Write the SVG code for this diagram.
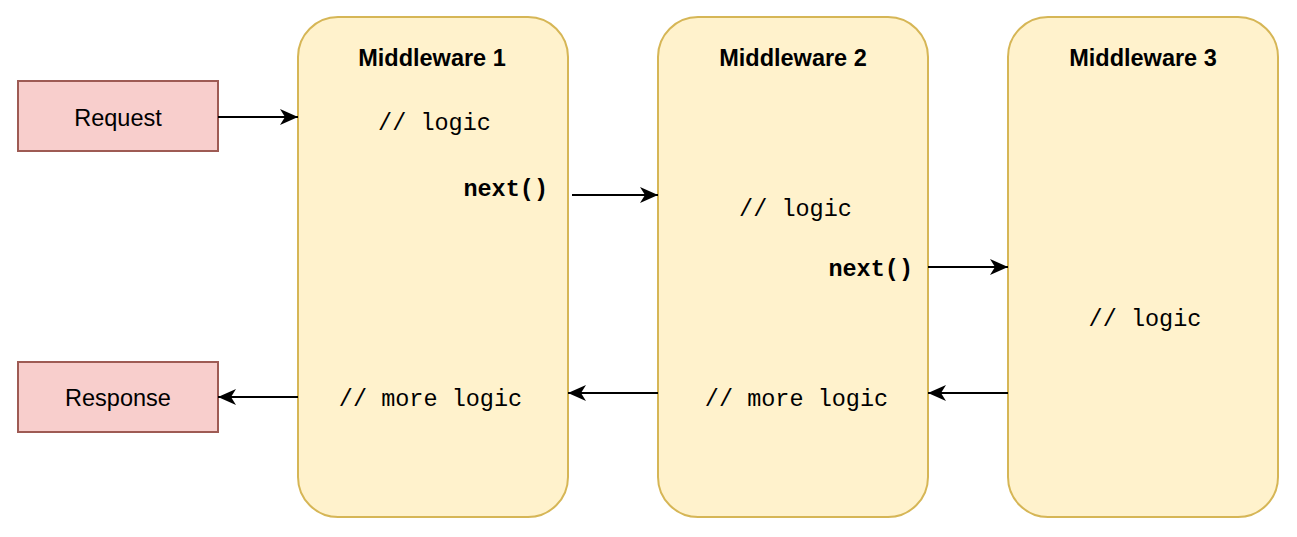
<svg xmlns="http://www.w3.org/2000/svg" width="1297" height="537" viewBox="0 0 1297 537">
<defs>
<marker id="arr" markerUnits="userSpaceOnUse" markerWidth="19" markerHeight="18" refX="18" refY="9" orient="auto">
<path d="M0,1 L18,9 L0,17 L5,9 Z" fill="#000"/>
</marker>
<style>
.mw{fill:#fff2cc;stroke:#d6b656;stroke-width:2}
.io{fill:#f8cecc;stroke:#9e5b54;stroke-width:2}
.t{font-family:"Liberation Sans",Arial,sans-serif;font-size:23.5px;fill:#000}
.b{font-weight:bold}
.m{font-family:"Liberation Mono","Courier New",monospace;font-size:23.5px;fill:#000}
.c{fill:none;stroke:#000;stroke-width:2;marker-end:url(#arr)}
</style>
</defs>
<rect width="1297" height="537" fill="#fff"/>
<g id="request">
<rect class="io" x="18" y="81" width="200" height="70"/>
<text class="t" x="118" y="126" text-anchor="middle">Request</text>
</g>
<g id="response">
<rect class="io" x="18" y="362" width="200" height="70"/>
<text class="t" x="118" y="406" text-anchor="middle">Response</text>
</g>
<g id="mw1">
<rect class="mw" x="298" y="17" width="270" height="500" rx="40" ry="40"/>
<text class="t b" x="432" y="66" text-anchor="middle">Middleware 1</text>
<text class="m" x="434.5" y="130" text-anchor="middle">// logic</text>
<text class="m b" x="548" y="196" text-anchor="end">next()</text>
<text class="m" x="430.5" y="406" text-anchor="middle">// more logic</text>
</g>
<g id="mw2">
<rect class="mw" x="658" y="17" width="270" height="500" rx="40" ry="40"/>
<text class="t b" x="793" y="66" text-anchor="middle">Middleware 2</text>
<text class="m" x="795.5" y="216" text-anchor="middle">// logic</text>
<text class="m b" x="913" y="276" text-anchor="end">next()</text>
<text class="m" x="796.5" y="406" text-anchor="middle">// more logic</text>
</g>
<g id="mw3">
<rect class="mw" x="1008" y="17" width="270" height="500" rx="40" ry="40"/>
<text class="t b" x="1143" y="66" text-anchor="middle">Middleware 3</text>
<text class="m" x="1145" y="326" text-anchor="middle">// logic</text>
</g>
<g id="connectors">
<path class="c" d="M218,117 L298,117"/>
<path class="c" d="M572,195 L658,195"/>
<path class="c" d="M928,267 L1008,267"/>
<path class="c" d="M1008,393 L928,393"/>
<path class="c" d="M658,393 L568,393"/>
<path class="c" d="M298,397 L218,397"/>
</g>
</svg>
